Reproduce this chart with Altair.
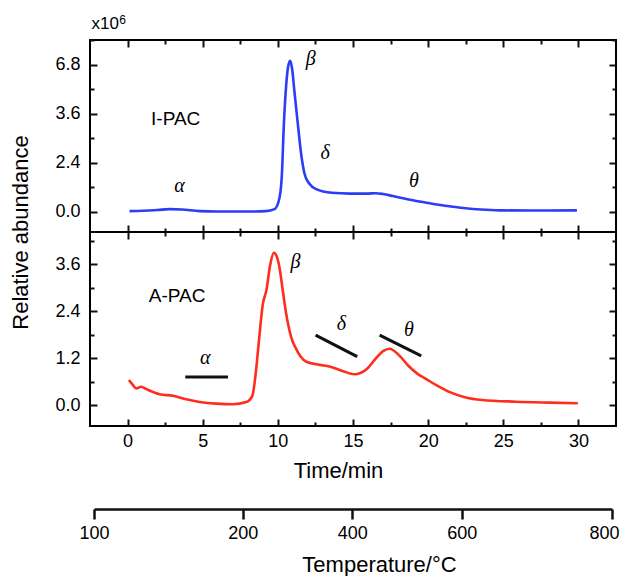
import altair as alt
import pandas as pd

# ---------------- data ----------------
# I-PAC (top panel); y in plotted tick units (ticks 0,1.2,2.4,3.6 labelled 0.0,2.4,3.6,6.8)
ipac_time = [0.13, 1.0, 2.0, 2.8, 3.6, 4.8, 6.0, 7.0, 8.0, 9.2, 9.78, 10.11, 10.27, 10.4,
             10.56, 10.67, 10.82, 10.95, 11.1, 11.33, 11.55, 11.78, 12.1, 12.55, 13.6,
             14.8, 15.9, 16.5, 17.0, 17.65, 18.4, 19.2, 20.0, 20.8, 21.6, 22.5, 23.5,
             24.75, 26.9, 29.9]
ipac_abund = [0.02, 0.03, 0.05, 0.07, 0.06, 0.02, 0.01, 0.01, 0.01, 0.02, 0.07, 0.35,
              0.93, 2.15, 3.13, 3.53, 3.70, 3.50, 2.96, 2.15, 1.42, 0.93, 0.69, 0.56,
              0.47, 0.45, 0.45, 0.46, 0.44, 0.39, 0.33, 0.27, 0.22, 0.17, 0.13, 0.09,
              0.06, 0.04, 0.035, 0.04]

# A-PAC (bottom panel)
apac_time = [0.09, 0.35, 0.58, 0.91, 1.25, 2.13, 3.02, 3.91, 4.8, 5.9, 7.0, 7.9, 8.3,
             8.52, 8.74, 9.0, 9.23, 9.5, 9.73, 9.9, 10.11, 10.33, 10.56, 10.9, 11.2,
             11.5, 11.9, 12.77, 13.44, 14.3, 15.1, 15.9, 16.55, 17.0, 17.43, 18.1, 18.7,
             19.3, 19.9, 20.6, 21.4, 22.5, 23.6, 25.85, 28.1, 29.96]
apac_abund = [0.645, 0.52, 0.43, 0.47, 0.41, 0.28, 0.24, 0.15, 0.084, 0.04, 0.025, 0.08,
              0.24, 0.79, 1.64, 2.58, 2.92, 3.6, 3.89, 3.82, 3.51, 2.92, 2.32, 1.72,
              1.45, 1.25, 1.11, 1.03, 0.99, 0.875, 0.79, 0.92, 1.21, 1.38, 1.44, 1.26,
              1.0, 0.8, 0.66, 0.5, 0.34, 0.2, 0.135, 0.09, 0.066, 0.05]

# axis ticks
x_major = [0, 5, 10, 15, 20, 25, 30]
x_minor = [2.5, 7.5, 12.5, 17.5, 22.5, 27.5]
y_major = [0.0, 1.2, 2.4, 3.6]
y_minor = [0.6, 1.8, 3.0, 4.2]
top_y_labels = ["0.0", "2.4", "3.6", "6.8"]
bot_y_labels = ["0.0", "1.2", "2.4", "3.6"]

# temperature axis (positions expressed on the time axis)
temp_pos = [-2.2, 7.7, 15.0, 22.3, 32.3]
temp_labels = ["100", "200", "400", "600", "800"]

# annotations
top_greek = ["α", "β", "δ", "θ"]
top_greek_t = [3.46, 12.18, 13.15, 19.05]
top_greek_u = [0.64, 3.74, 1.45, 0.76]
bot_greek = ["α", "β", "δ", "θ"]
bot_greek_t = [5.17, 11.18, 14.22, 18.72]
bot_greek_u = [1.21, 3.66, 2.08, 1.91]
sample_names = ["I-PAC", "A-PAC"]
sample_t = [3.2, 3.3]
sample_u = [2.27, 2.79]
seg_t0 = [3.84, 12.51, 16.77]
seg_t1 = [6.68, 15.28, 19.54]
seg_u0 = [0.72, 1.79, 1.79]
seg_u1 = [0.72, 1.24, 1.26]
exp_text = ["x10", "6"]
exp_t = [-2.4, -0.55]
exp_u = [4.48, 4.60]
exp_size = [17, 12]

# ---------------- chart ----------------
W = 526
H_TOP = 192
H_BOT = 194
X_DOM = [-2.5, 32.5]
TOP_DOM = [-0.49, 4.21]
BOT_DOM = [-0.53, 4.42]
BLUE = "#2d3cf6"
RED = "#ff2d1e"
INK = "#111111"
SANS = "Liberation Sans"
SERIF = "Liberation Serif"
MAJ = 7
MIN = 4


def lab_expr(pos, labels):
    keys = ",".join(str(int(round(p * 10))) for p in pos)
    labs = ",".join("'" + l + "'" for l in labels)
    return f"[{labs}][indexof([{keys}], round(datum.value*10))]"


def tick_axis(orient, values, size, **kw):
    return alt.Axis(orient=orient, values=values, tickSize=size, offset=-size,
                    domain=False, grid=False, ticks=True, tickColor=INK,
                    tickWidth=2, **kw)


def panel(df, color, ydom, height, ylabels, xlabels, ytitle, annot_layers):
    xs = alt.Scale(domain=X_DOM, nice=False, zero=False)
    ys = alt.Scale(domain=ydom, nice=False, zero=False)

    if xlabels:
        x_main = tick_axis("bottom", x_major, MAJ, labels=True, labelPadding=6,
                           format="d", title="Time/min", titlePadding=10, titleX=248)
    else:
        x_main = tick_axis("bottom", x_major, MAJ, labels=False, title=None)
    if ytitle:
        y_main = tick_axis("left", y_major, MAJ, labels=True, labelPadding=10,
                           labelExpr=lab_expr(y_major, ylabels),
                           title="Relative abundance", titleX=-65, titleY=height,
                           titleAngle=270)
    else:
        y_main = tick_axis("left", y_major, MAJ, labels=True, labelPadding=10,
                           labelExpr=lab_expr(y_major, ylabels), title=None)

    base = alt.Chart(df)
    line = base.mark_line(color=color, strokeWidth=2.6, interpolate="monotone").encode(
        x=alt.X("t:Q", scale=xs, axis=x_main),
        y=alt.Y("u:Q", scale=ys, axis=y_main),
    )
    ghosts = []
    for xo, xv, xsz, yo, yv, ysz in [
        ("bottom", x_minor, MIN, "left", y_minor, MIN),
        ("top", x_major, MAJ, "right", y_major, MAJ),
        ("top", x_minor, MIN, "right", y_minor, MIN),
    ]:
        ghosts.append(
            base.mark_line(opacity=0).encode(
                x=alt.X("t:Q", scale=xs, axis=tick_axis(xo, xv, xsz, labels=False, title=None)),
                y=alt.Y("u:Q", scale=ys, axis=tick_axis(yo, yv, ysz, labels=False, title=None)),
            )
        )
    extras = [a(xs, ys) for a in annot_layers]
    return (
        alt.layer(line, *ghosts, *extras)
        .resolve_axis(x="independent", y="independent")
        .properties(width=W, height=height)
    )


def greek_layer(labels, ts, us):
    df = pd.DataFrame({"t": ts, "u": us, "lab": labels})

    def f(xs, ys):
        return alt.Chart(df).mark_text(font=SERIF, fontStyle="italic", fontSize=20,
                                       color="black").encode(
            x=alt.X("t:Q", scale=xs, axis=None),
            y=alt.Y("u:Q", scale=ys, axis=None),
            text="lab:N",
        )
    return f


def name_layer(name, t, u):
    df = pd.DataFrame({"t": [t], "u": [u], "lab": [name]})

    def f(xs, ys):
        return alt.Chart(df).mark_text(font=SANS, fontSize=19, color="black").encode(
            x=alt.X("t:Q", scale=xs, axis=None),
            y=alt.Y("u:Q", scale=ys, axis=None),
            text="lab:N",
        )
    return f


def exp_layer():
    df = pd.DataFrame({"t": exp_t, "u": exp_u, "lab": exp_text, "fs": exp_size})

    def f(xs, ys):
        return alt.Chart(df).mark_text(font=SANS, align="left", baseline="alphabetic",
                                       color="black").encode(
            x=alt.X("t:Q", scale=xs, axis=None),
            y=alt.Y("u:Q", scale=ys, axis=None),
            text="lab:N",
            size=alt.Size("fs:Q", scale=None, legend=None),
        )
    return f


def seg_layer():
    df = pd.DataFrame({"t0": seg_t0, "t1": seg_t1, "u0": seg_u0, "u1": seg_u1})

    def f(xs, ys):
        return alt.Chart(df).mark_rule(color=INK, strokeWidth=3).encode(
            x=alt.X("t0:Q", scale=xs, axis=None),
            x2="t1:Q",
            y=alt.Y("u0:Q", scale=ys, axis=None),
            y2="u1:Q",
        )
    return f


top_df = pd.DataFrame({"t": ipac_time, "u": ipac_abund})
bot_df = pd.DataFrame({"t": apac_time, "u": apac_abund})

top = panel(top_df, BLUE, TOP_DOM, H_TOP, top_y_labels, False, True,
            [greek_layer(top_greek, top_greek_t, top_greek_u),
             name_layer(sample_names[0], sample_t[0], sample_u[0]),
             exp_layer()])
bottom = panel(bot_df, RED, BOT_DOM, H_BOT, bot_y_labels, True, False,
               [seg_layer(),
                greek_layer(bot_greek, bot_greek_t, bot_greek_u),
                name_layer(sample_names[1], sample_t[1], sample_u[1])])

# temperature axis: its own scale spanning the 100..800 ticks
temp_df = pd.DataFrame({"t": temp_pos})
TEMP_W = 518
temp = (
    alt.Chart(temp_df)
    .mark_point(opacity=0)
    .encode(
        x=alt.X("t:Q", scale=alt.Scale(domain=[temp_pos[0], temp_pos[-1]], nice=False, zero=False),
                axis=alt.Axis(orient="bottom", values=temp_pos,
                              labelExpr=lab_expr(temp_pos, temp_labels),
                              labelFlush=False, labelOverlap=False,
                              labelOffset={"condition": {"test": "datum.value > 32", "value": -8},
                                           "value": 0},
                              domain=True, domainColor=INK, domainWidth=2.5,
                              grid=False, tickSize=10, tickWidth=2.5,
                              tickColor=INK, labelPadding=5,
                              title="Temperature/°C", titlePadding=12, titleX=285)),
    )
    .properties(width=TEMP_W, height=83, view=alt.ViewBackground(stroke="transparent"))
)

chart = (
    alt.vconcat(top, bottom, temp, spacing=0, bounds="flush", center=True)
    .configure_view(stroke="black", strokeWidth=2)
    .configure_axis(labelFont=SANS, labelFontSize=18, labelColor="black",
                    titleFont=SANS, titleFontSize=22, titleFontWeight="normal",
                    titleColor="black")
    .properties(padding={"left": 0, "top": 5, "right": 0, "bottom": 0})
)

chart.save("out.html", embed_options={"renderer": "svg", "actions": False})
